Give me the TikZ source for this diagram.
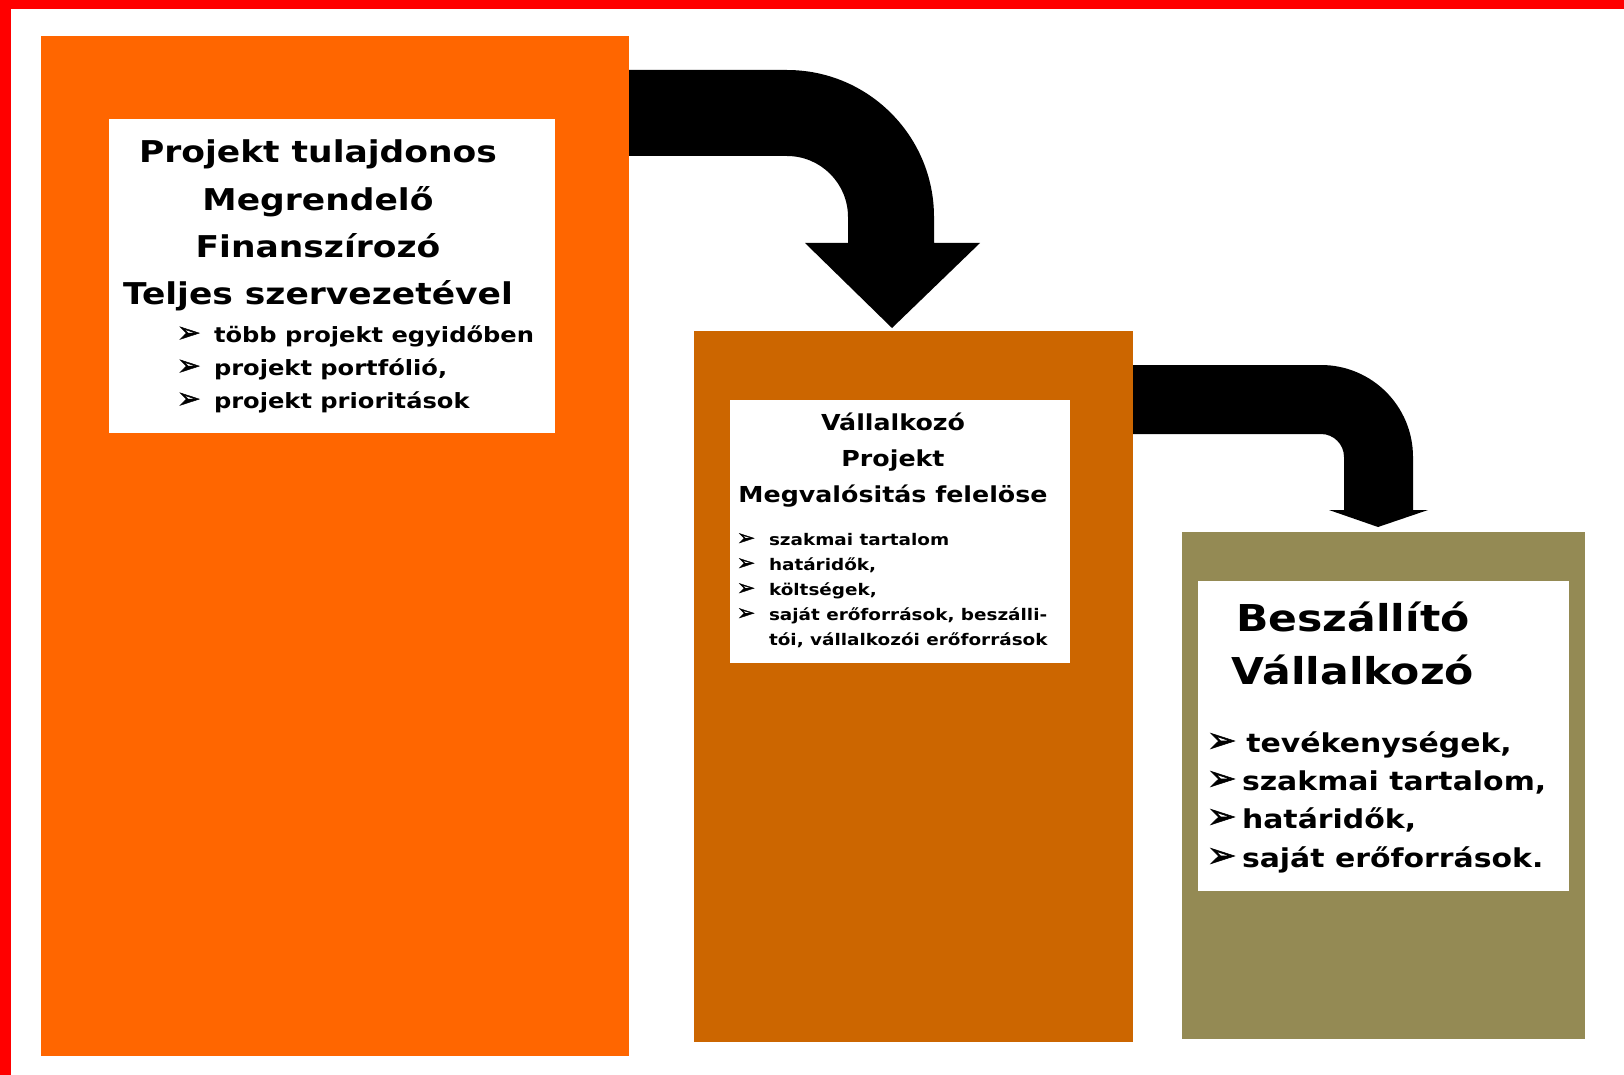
\documentclass[tikz,border=0pt]{standalone}
\usepackage{graphicx}
\usepackage{fontspec}
\newfontfamily\df{DejaVu Sans}[FakeStretch=1.15]
\newfontfamily\arrf{DejaVu Sans}[FakeBold=1.6]
\newcommand\bulmark[1]{\makebox[#1][l]{\arrf\scalebox{1.35}{➢}}}
\definecolor{cOne}{HTML}{FF6600}
\definecolor{cTwo}{HTML}{CC6600}
\definecolor{cThree}{HTML}{948A54}
\begin{document}
\begin{tikzpicture}[x=1pt,y=1pt,
  every node/.style={inner sep=0pt, outer sep=0pt, text=black},
  hA/.style={font=\df\bfseries\fontsize{30}{36}\selectfont, anchor=base},
  bA/.style={font=\df\bfseries\fontsize{21}{25}\selectfont, anchor=base west},
  hB/.style={font=\df\bfseries\fontsize{22}{26}\selectfont, anchor=base},
  bB/.style={font=\df\bfseries\fontsize{16}{19}\selectfont, anchor=base west},
  hC/.style={font=\df\bfseries\fontsize{37}{44}\selectfont, anchor=base},
  bC/.style={font=\df\bfseries\fontsize{26}{31}\selectfont, anchor=base west},
  blockarrow/.style={fill=black}
]
\useasboundingbox (0,0) rectangle (1624,-1075);
\fill[white] (0,0) rectangle (1624,-1075);
\fill[red] (0,0) rectangle (1624,-9);
\fill[red] (0,0) rectangle (11,-1075);

% boxes
\fill[cOne] (41,-36) rectangle (629,-1056);
\fill[cTwo] (694,-331) rectangle (1133,-1042);
\fill[cThree] (1182,-532) rectangle (1585,-1039);
\fill[white] (109,-119) rectangle (555,-433);
\fill[white] (730,-400) rectangle (1070,-663);
\fill[white] (1198,-581) rectangle (1569,-891);

% block arrows
\fill[blockarrow] (629,-70) -- (787,-70) arc[start angle=90, end angle=0, radius=147]
  -- (934,-243) -- (980,-243) -- (892,-328) -- (805,-243) -- (848,-243) -- (848,-217)
  arc[start angle=0, end angle=90, radius=61] -- (629,-156) -- cycle;
\fill[blockarrow] (1133,-365) -- (1321,-365) arc[start angle=90, end angle=0, radius=92]
  -- (1413,-510) -- (1428,-510) -- (1378,-527) -- (1329,-510) -- (1344,-510) -- (1344,-457)
  arc[start angle=0, end angle=90, radius=23] -- (1133,-434) -- cycle;

% box 1 text
\node[hA] (a1) at (318,-163) {Projekt tulajdonos};
\node[hA] (a2) at (318,-211) {Megrendelő};
\node[hA] (a3) at (318,-258) {Finanszírozó};
\node[hA] (a4) at (318,-305) {Teljes szervezetével};
\node[bA] (a5) at (177,-342) {\bulmark{37pt}több projekt egyidőben};
\node[bA] (a6) at (177,-375) {\bulmark{37pt}projekt portfólió,};
\node[bA] (a7) at (177,-408) {\bulmark{37pt}projekt prioritások};

% box 2 text
\node[hB] (b1) at (893,-430) {Vállalkozó};
\node[hB] (b2) at (893,-466) {Projekt};
\node[hB] (b3) at (893,-502) {Megvalósitás felelöse};
\node[bB] (b4) at (737,-545) {\bulmark{32pt}szakmai tartalom};
\node[bB] (b5) at (737,-570) {\bulmark{32pt}határidők,};
\node[bB] (b6) at (737,-595) {\bulmark{32pt}költségek,};
\node[bB] (b7) at (737,-620) {\bulmark{32pt}saját erőforrások, beszálli-};
\node[bB] (b8) at (769,-645) {tói, vállalkozói erőforrások};

% box 3 text
\node[hC] (c1) at (1353,-631) {Beszállító};
\node[hC] (c2) at (1353,-684) {Vállalkozó};
\node[bC] (c3) at (1207,-752) {\bulmark{35pt}\,tevékenységek,};
\node[bC] (c4) at (1207,-790) {\bulmark{35pt}szakmai tartalom,};
\node[bC] (c5) at (1207,-828) {\bulmark{35pt}határidők,};
\node[bC] (c6) at (1207,-867) {\bulmark{35pt}saját erőforrások.};
\end{tikzpicture}
\end{document}
